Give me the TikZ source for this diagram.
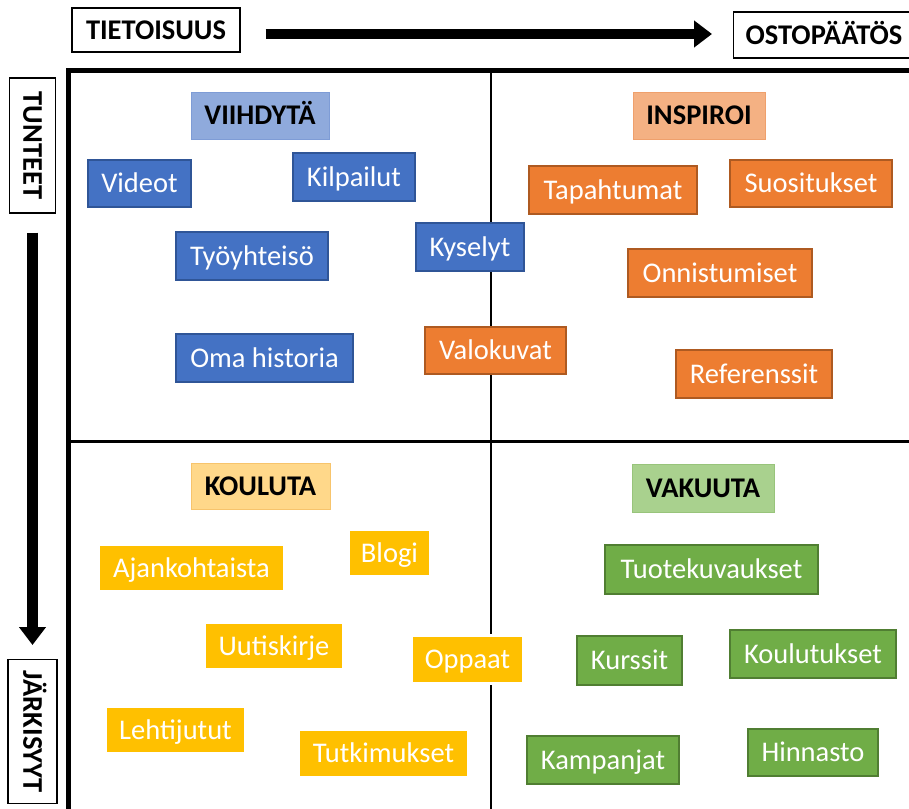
\documentclass[tikz,border=0pt]{standalone}
\usepackage{fontspec}
\setmainfont{Carlito}
\usetikzlibrary{arrows.meta}

\definecolor{cblue}{HTML}{4472C4}
\definecolor{cblueline}{HTML}{2F5597}
\definecolor{cbluehead}{HTML}{8FAADC}
\definecolor{cblueheadline}{HTML}{7E9CD6}
\definecolor{corange}{HTML}{ED7D31}
\definecolor{corangeline}{HTML}{AE5A21}
\definecolor{corangehead}{HTML}{F4B183}
\definecolor{corangeheadline}{HTML}{EFA06C}
\definecolor{cyellow}{HTML}{FFC000}
\definecolor{cyellowhead}{HTML}{FFD88A}
\definecolor{cyellowheadline}{HTML}{F7C46C}
\definecolor{cgreen}{HTML}{70AD47}
\definecolor{cgreenline}{HTML}{507E32}
\definecolor{cgreenhead}{HTML}{A9D18E}
\definecolor{cgreenheadline}{HTML}{98C47B}

\tikzset{
  wh/.style 2 args={minimum width=#1pt, minimum height=#2pt},
  tag/.style={inner sep=0pt, outer sep=0pt, anchor=north west,
    font=\fontsize{28.5}{30}\selectfont, text=white,
    text height=18.4pt, text depth=0pt, line width=1.5pt},
  head/.style={tag, text=black, font=\fontsize{28.5}{30}\selectfont\bfseries, line width=1pt},
  bluebox/.style={tag, fill=cblue, draw=cblueline},
  orangebox/.style={tag, fill=corange, draw=corangeline},
  yellowbox/.style={tag, preaction={draw=white, line width=6pt}, fill=cyellow},
  greenbox/.style={tag, fill=cgreen, draw=cgreenline},
  bluehead/.style={head, fill=cbluehead, draw=cblueheadline},
  orangehead/.style={head, fill=corangehead, draw=corangeheadline},
  yellowhead/.style={head, fill=cyellowhead, draw=cyellowheadline},
  greenhead/.style={head, fill=cgreenhead, draw=cgreenheadline},
  axislabel/.style={draw=black, line width=1.3pt, fill=white, inner sep=0pt,
    font=\fontsize{28.5}{30}\selectfont\bfseries, text height=18.4pt, text depth=0pt},
  bigarrow/.style={line width=10.5pt, -{Triangle[length=18pt, width=26pt]}}
}

\begin{document}
\begin{tikzpicture}[x=1pt,y=-1pt]
\useasboundingbox (0,0) rectangle (909,808);
\clip (0,0) rectangle (909,808);

% quadrant frame and dividers
\draw[line width=5pt, line join=miter] (68.5,815) -- (68.5,70.5) -- (915,70.5);
\draw[line width=2.7pt] (491,72) -- (491,815);
\draw[line width=3pt] (70,441) -- (915,441);

% axis labels
\node[axislabel, wh={168}{44}] (tieto) at (156,30) {TIETOISUUS};
\node[axislabel, anchor=west, inner xsep=12pt, minimum height=46pt] (osto) at (733,35) {OSTOPÄÄTÖS\hspace{12pt}};
\node[axislabel, rotate=-90, wh={135}{46}] (tunteet) at (32.5,145.5) {TUNTEET};
\node[axislabel, rotate=-90, anchor=west, inner xsep=11pt, minimum height=49pt] (jarki) at (32.5,659) {JÄRKISYYT\hspace{12pt}};

% axis arrows
\coordinate (hrow) at (0,34);
\draw[bigarrow, shorten <=25pt, shorten >=21pt] (tieto.east |- hrow) -- (osto.west |- hrow);
\draw[bigarrow, shorten <=19pt, shorten >=14pt] (tunteet.east) -- (jarki.west);

% entertain
\node[bluehead, wh={138}{47}] (viihdyta) at (191,92) {VIIHDYTÄ};
\node[bluebox, wh={103}{47}] (videot) at (88,160) {Videot};
\node[bluebox, wh={122}{48}] (kilpailut) at (293,153) {Kilpailut};
\node[bluebox, wh={152}{48}] (tyoyhteiso) at (176,232) {Työyhteisö};
\node[bluebox, wh={108}{48}] (kyselyt) at (416,223) {Kyselyt};
\node[bluebox, wh={177}{48}] (omahistoria) at (176,334) {Oma historia};

% inspire
\node[orangehead, wh={132}{47}] (inspiroi) at (633,92) {INSPIROI};
\node[orangebox, wh={168}{48}] (tapahtumat) at (529,166) {Tapahtumat};
\node[orangebox, wh={162}{47}] (suositukset) at (730,160) {Suositukset};
\node[orangebox, wh={184}{48}] (onnistumiset) at (628,249) {Onnistumiset};
\node[orangebox, wh={141}{47}] (valokuvat) at (425,327) {Valokuvat};
\node[orangebox, wh={156}{48}] (referenssit) at (676,350) {Referenssit};

% educate
\node[yellowhead, wh={139}{46}] (kouluta) at (191,463) {KOULUTA};
\node[yellowbox, wh={79}{44}] (blogi) at (350,531) {Blogi};
\node[yellowbox, wh={183}{44}] (ajankohtaista) at (100,546) {Ajankohtaista};
\node[yellowbox, wh={136}{44}] (uutiskirje) at (206,624) {Uutiskirje};
\node[yellowbox, wh={109}{45}] (oppaat) at (413,637) {Oppaat};
\node[yellowbox, wh={137}{44}] (lehtijutut) at (107,708) {Lehtijutut};
\node[yellowbox, wh={167}{45}] (tutkimukset) at (300,731) {Tutkimukset};

% convince
\node[greenhead, wh={142}{48}] (vakuuta) at (632,464) {VAKUUTA};
\node[greenbox, wh={213}{49}] (tuotekuvaukset) at (605,545) {Tuotekuvaukset};
\node[greenbox, wh={105}{49}] (kurssit) at (577,636) {Kurssit};
\node[greenbox, wh={166}{48}] (koulutukset) at (730,630) {Koulutukset};
\node[greenbox, wh={152}{48}] (kampanjat) at (527,736) {Kampanjat};
\node[greenbox, wh={130}{47}] (hinnasto) at (748,729) {Hinnasto};
\end{tikzpicture}
\end{document}
